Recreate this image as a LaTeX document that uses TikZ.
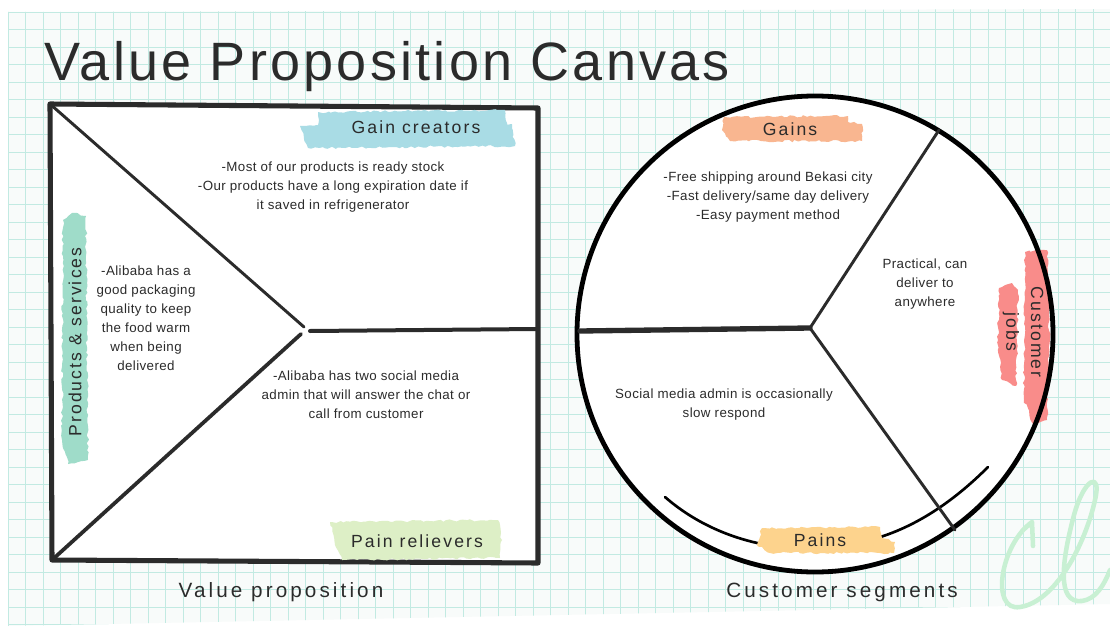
\documentclass[tikz,border=0pt]{standalone}
\usepackage{fontspec}
\setmainfont{Liberation Sans}[LetterSpace=3]
\newfontfamily\titlefont{Liberation Sans}[LetterSpace=6]
\usetikzlibrary{
  decorations.pathmorphing,
  positioning
}
\definecolor{ink}{HTML}{2B2B2B}
\definecolor{paper}{HTML}{F8FBFA}
\definecolor{gridmint}{HTML}{C2EAE2}
\definecolor{gainblue}{HTML}{A9DCE5}
\definecolor{prodmint}{HTML}{9FDCC9}
\definecolor{painlime}{HTML}{DDEFC6}
\definecolor{gainpeach}{HTML}{F9B690}
\definecolor{painsand}{HTML}{FDD38D}
\definecolor{jobpink}{HTML}{F98C8A}
\definecolor{scribble}{HTML}{C8F0D3}
\tikzset{
  x = 0.75pt,
  y = -0.75pt,
  gridline/.style = {draw=gridmint, line width=0.7pt},
  boxline/.style = {draw=ink, line width=3.8pt, line join=round, line cap=round},
  thinline/.style = {draw=ink, line width=2.2pt, line cap=round},
  brush/.style = {fill=#1, decorate,
    decoration={random steps, segment length=2.5pt, amplitude=0.9pt}},
  note/.style = {align=center, text=ink, font=\fontsize{10}{14.3}\selectfont},
  tag/.style = {text=ink, align=center,
    font=\fontsize{13.2}{18.5}\selectfont\addfontfeature{LetterSpace=12}},
  caption/.style = {text=ink, font=\fontsize{15.5}{18}\selectfont\addfontfeature{LetterSpace=15}},
}

\begin{document}
\begin{tikzpicture}
  \useasboundingbox (0,0) rectangle (1110,628);
  \fill[white] (0,0) rectangle (1110,628);

  % grid paper
  \begin{scope}
    \clip (8,12) -- (1110,9) -- (1110,604) -- (8,626) -- cycle;
    \fill[paper] (0,0) rectangle (1110,628);
    \foreach \k in {0,...,63}
      \draw[gridline] (8+17.5*\k,0) -- (8+17.5*\k,628);
    \foreach \k in {0,...,36}
      \draw[gridline] (0,12+17.5*\k) -- (1110,12+17.5*\k);
  \end{scope}

  % scribble
  \draw[scribble, line width=3.4pt, line cap=round, line join=round]
    (1033,546) -- (1032,522) -- (1022,531)
    (1032,522) .. controls (1000,545) and (990,612) .. (1020,607)
    .. controls (1055,602) and (1085,545) .. (1095,500)
    .. controls (1102,470) and (1084,478) .. (1074,515)
    .. controls (1062,560) and (1056,604) .. (1082,601)
    .. controls (1096,599) and (1104,585) .. (1110,570);

  \node[anchor=base west, text=ink, font=\fontsize{40.5}{44}\titlefont] (title) at (40,80) {Value Proposition Canvas};

  % value proposition square
  \coordinate (tl) at (50,104);
  \coordinate (tr) at (538,108);
  \coordinate (br) at (538,563);
  \coordinate (bl) at (52,560);
  \coordinate (apex) at (304,327);
  \coordinate (apexlow) at (301,334);
  \coordinate (midleft) at (310,331);
  \coordinate (midright) at (537,329);
  \filldraw[fill=white, boxline] (tl) -- (tr) -- (br) -- (bl) -- cycle;
  \draw[thinline] (tl) -- (apex);
  \draw[thinline, line width=2.8pt] (apexlow) -- (bl);
  \draw[thinline, line width=3pt] (midleft) -- (midright);

  \path[brush=gainblue] (318,112) -- (505,110) -- (508,128) -- (318,130) -- cycle;
  \path[brush=gainblue] (300,126) -- (512,124) -- (515,146) -- (308,148) -- cycle;
  \path[brush=prodmint] (63,220) -- (72,213) -- (86,216) -- (88,460) -- (68,464) -- (62,440) -- cycle;
  \path[brush=painlime] (330,522) -- (498,520) -- (502,540) -- (500,558) -- (342,560) -- (335,545) -- cycle;

  \node[tag, anchor=base] (creators) at (416,133) {Gain creators};
  \node[tag, anchor=base] (relievers) at (417,547) {Pain relievers};
  \node[tag, rotate=90] (products) at (75,342) {Products \& services};

  \node[note] (creatortext) at (333,187) {-Most of our products is ready stock\\-Our products have a long expiration date if\\it saved in refrigenerator};
  \node[note] (producttext) at (146,318) {-Alibaba has a\\good packaging\\quality to keep\\the food warm\\when being\\delivered};
  \node[note] (relievertext) at (366,395) {-Alibaba has two social media\\admin that will answer the chat or\\call from customer};

  \node[caption, anchor=base] (valueprop) at (281,597) {Value proposition};

  % customer segment circle
  \coordinate (seg) at (815,334);
  \coordinate (hub) at (810,328);
  \coordinate (rimleft) at (580,331);
  \coordinate (rimtop) at (939,130);
  \coordinate (rimlow) at (955,530);
  \coordinate (arcstart) at (665,497);
  \coordinate (arcend) at (988,467);
  \fill[white] (seg) circle[radius=238];
  \draw[black, line width=2pt, line cap=round] (arcstart) .. controls (720,545) and (800,560) .. (870,540)
    .. controls (920,527) and (960,495) .. (arcend);

  \path[brush=gainpeach] (724,117) -- (848,116) -- (848,122) -- (862,124) -- (862,141) -- (730,141) -- (722,130) -- cycle;
  \path[brush=painsand] (762,528) -- (880,527) -- (882,538) -- (895,542) -- (894,553) -- (770,553) -- (757,545) -- cycle;
  \path[brush=jobpink] (1025,252) -- (1047,250) -- (1050,300) -- (1047,420) -- (1033,424) -- (1024,400) -- cycle;
  \path[brush=jobpink] (999,288) -- (1012,283) -- (1018,290) -- (1016,386) -- (1002,380) -- (998,340) -- cycle;

  \draw[black, line width=3.6pt] (seg) circle[radius=238];
  \draw[thinline, line width=4pt] (rimleft) -- (hub);
  \draw[thinline] (hub) -- (rimtop);
  \draw[thinline] (hub) -- (rimlow);

  \node[tag, anchor=base] (gains) at (790,135) {Gains};
  \node[tag, anchor=base] (pains) at (820,546) {Pains};
  \node[tag, rotate=-90] (jobs) at (1023,332) {Customer\\jobs};

  \node[note] (gaintext) at (768,197) {-Free shipping around Bekasi city\\-Fast delivery/same day delivery\\-Easy payment method};
  \node[note] (jobtext) at (925,284) {Practical, can\\deliver to\\anywhere};
  \node[note] (paintext) at (724,405) {Social media admin is occasionally\\slow respond};

  \node[caption, anchor=base] (segments) at (842,597) {Customer segments};
\end{tikzpicture}
\end{document}
